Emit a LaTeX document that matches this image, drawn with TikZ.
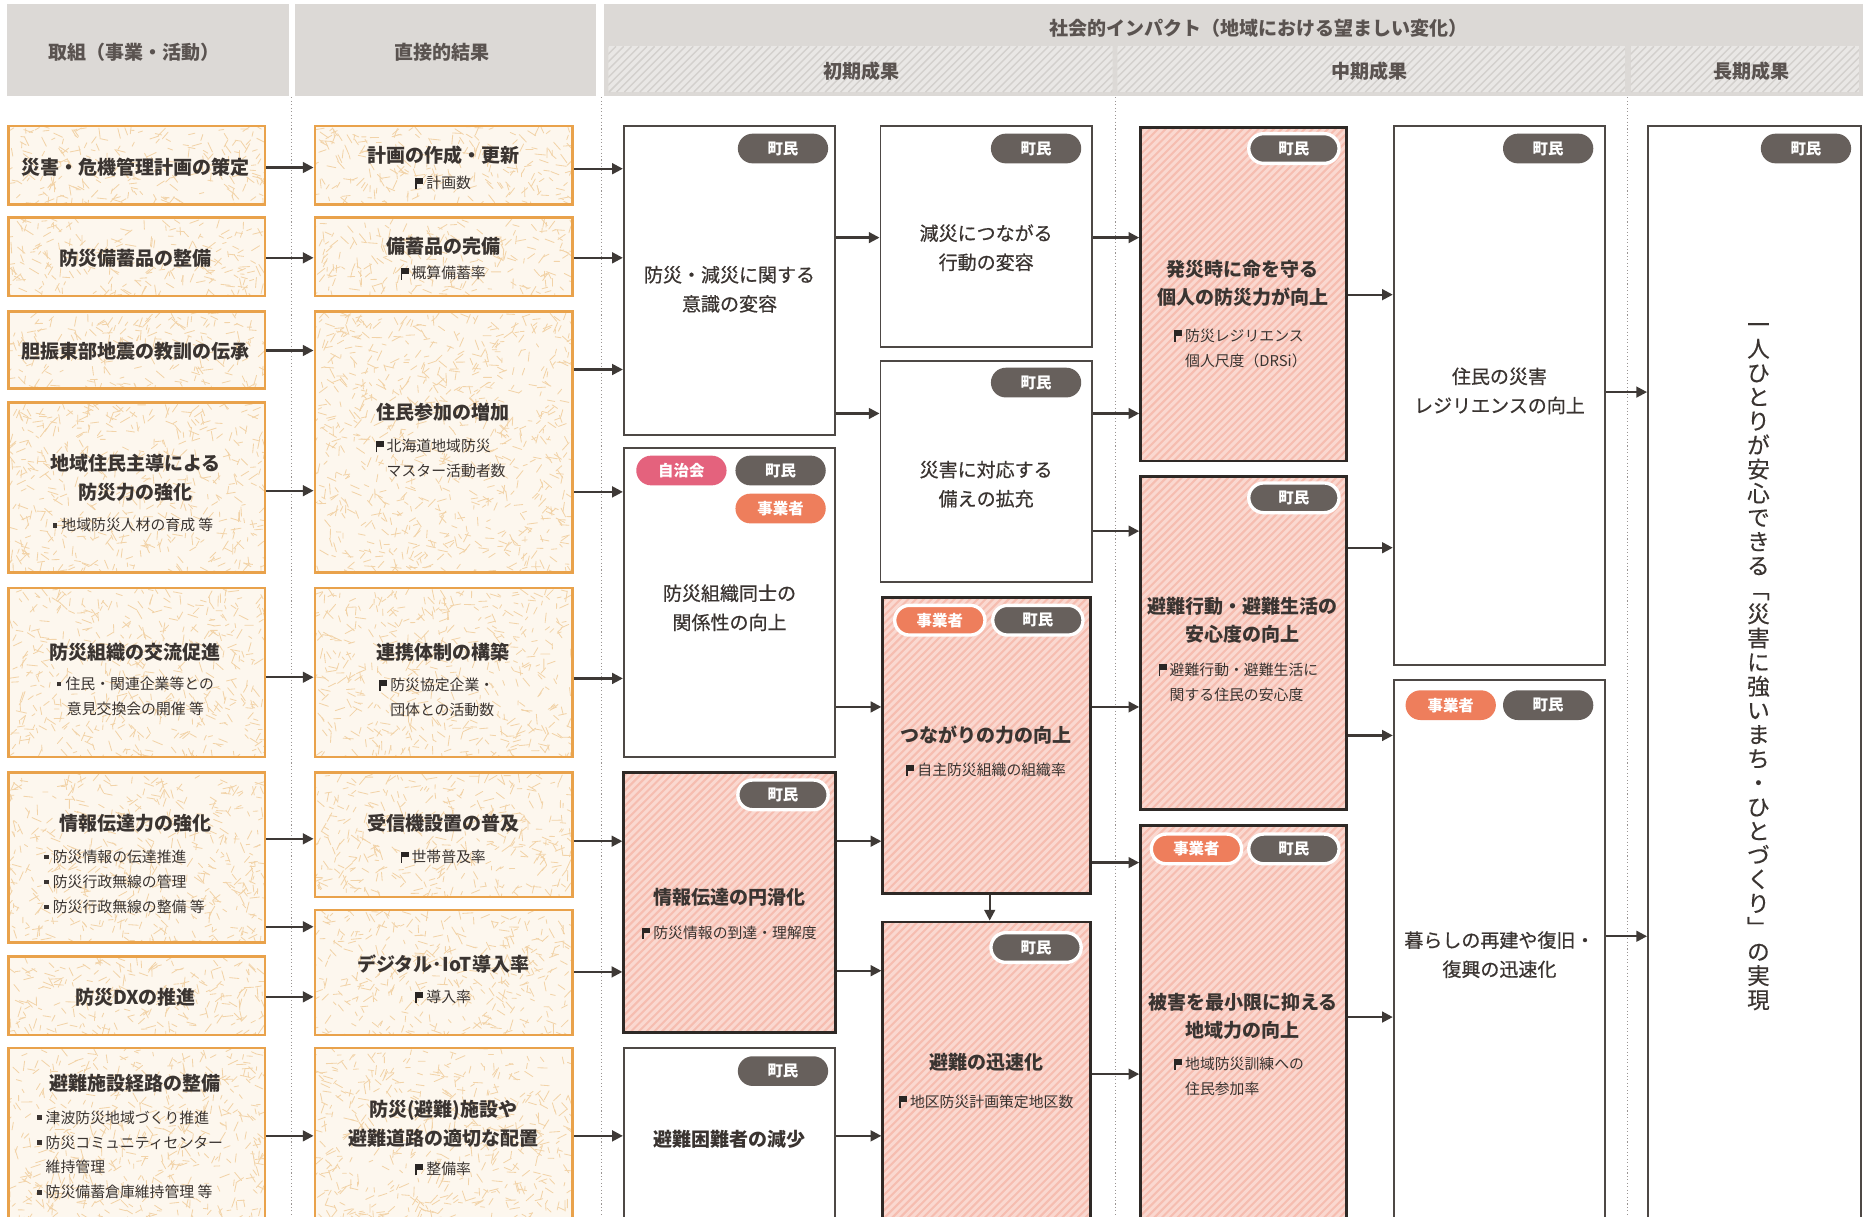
\documentclass[tikz,border=0pt]{standalone}
\usepackage{fontspec}
\setmainfont{Noto Sans CJK JP}
\newfontfamily\medf[FakeBold=0.6]{Noto Sans CJK JP}
\newfontfamily\vertf[FakeBold=0.3]{Noto Sans CJK JP}
\usetikzlibrary{arrows.meta,shapes.misc}

\definecolor{hdr}{HTML}{DCD9D6}
\definecolor{hdrtxt}{HTML}{5A5350}
\definecolor{hband}{HTML}{E9E7E5}
\definecolor{hstripe}{HTML}{D3D0CD}
\definecolor{orb}{HTML}{E9A24B}
\definecolor{cream}{HTML}{FDF7EE}
\definecolor{scr}{HTML}{F2D3A8}
\definecolor{pinkf}{HTML}{F6BDB0}
\definecolor{pinks}{HTML}{FAD8D0}
\definecolor{pbd}{HTML}{2E2926}
\definecolor{wbd}{HTML}{4D4845}
\definecolor{arrc}{HTML}{3E3936}
\definecolor{pilld}{HTML}{67605C}
\definecolor{pillp}{HTML}{E4627D}
\definecolor{pillo}{HTML}{EE7E5C}
\definecolor{txt}{HTML}{3A3431}
\definecolor{dotc}{HTML}{9A9593}
\definecolor{flagc}{HTML}{2A2624}

\newcommand\flag{{\color{flagc}\rule[-0.5pt]{1.3pt}{9.5pt}\raisebox{4.2pt}{\rule{5.5pt}{4.8pt}}}\hspace{2.5pt}}
\newcommand\bul{{\color{txt}\raisebox{2.6pt}{\rule{3.8pt}{3.8pt}}}\hspace{3.5pt}}

\tikzset{
  arr/.style={draw=arrc, line width=1.9pt, -{Triangle[length=9pt,width=9pt]}},
  obx/.style={draw=orb, line width=2.2pt, inner sep=0pt},
  pbx/.style={draw=pbd, line width=2.4pt, inner sep=0pt},
  wbx/.style={draw=wbd, line width=1.5pt, fill=white, inner sep=0pt},
  plainbx/.style={inner sep=0pt, outer sep=0pt},
  hdbx/.style={fill=hdr, inner sep=0pt, outer sep=0pt},
  pill/.style={rounded rectangle, fill=#1, text=white, minimum width=76pt, minimum height=25pt, inner sep=0pt, font=\fontsize{13}{13}\selectfont\bfseries},
  pillw/.style={pill=#1, draw=white, line width=2.8pt},
  hd/.style={font=\fontsize{16}{16}\selectfont\bfseries, text=hdrtxt, inner sep=0pt},
  tb/.style={font=\fontsize{16}{24}\selectfont\bfseries, text=txt, align=center, inner sep=0pt},
  tm/.style={font=\fontsize{16}{24.5}\selectfont\medf, text=txt, align=center, inner sep=0pt},
  ts/.style={font=\fontsize{12.5}{21}\selectfont, text=txt, align=center, inner sep=0pt},
  tsl/.style={font=\fontsize{12.5}{21}\selectfont, text=txt, align=left, inner sep=0pt, anchor=west},
  dotl/.style={draw=dotc, line width=0.9pt, dotted},
}

\newcommand\bx[6]{\node[#2, minimum width={#5-#3}, minimum height={#6-#4}] (#1) at ({(#3+#5)/2},{(#4+#6)/2}) {};}

\newcommand\scrib[4]{%
  \begin{scope}
    \clip (#1,#2) rectangle (#3,#4);
    \fill[cream] (#1,#2) rectangle (#3,#4);
    \pgfmathtruncatemacro\nn{((#3-#1)/10)*((#4-#2)/6)}%
    \foreach \i in {1,...,\nn}{%
      \pgfmathsetmacro\px{#1+rnd*(#3-#1)}%
      \pgfmathsetmacro\py{#2+rnd*(#4-#2)}%
      \pgfmathsetmacro\an{rnd*180}%
      \pgfmathsetmacro\ln{3+rnd*6}%
      \draw[scr, line width=0.7pt, line cap=round] (\px,\py) -- ++(\an:\ln);
    }
  \end{scope}}

\newcommand\stripes[8]{%
  \begin{scope}
    \clip (#1,#2) rectangle (#3,#4);
    \fill[#5] (#1,#2) rectangle (#3,#4);
    \pgfmathsetmacro\hh{#4-#2}%
    \pgfmathsetmacro\tot{#3-#1+#4-#2}%
    \foreach \k in {0,#8,...,\tot}{%
      \draw[#6, line width=#7pt] ({#1-\hh+\k},#4) -- ++(\hh,-\hh);
    }
  \end{scope}}

\newcommand\orbox[5]{\scrib{#2}{#3}{#4}{#5}\bx{#1}{obx}{#2}{#3}{#4}{#5}}
\newcommand\pinkbox[5]{\stripes{#2}{#3}{#4}{#5}{pinkf}{pinks}{2.6}{6.5}\bx{#1}{pbx}{#2}{#3}{#4}{#5}}
\newcommand\whbox[5]{\bx{#1}{wbx}{#2}{#3}{#4}{#5}}
\newcommand\harr[3]{\draw[arr] (#1.east |- 0,#3) -- (#2.west |- 0,#3);}

\begin{document}
\begin{tikzpicture}[x=1pt,y=-1pt]
\pgfmathsetseed{4242}
\useasboundingbox (0,0) rectangle (1568,1024);
\clip (0,0) rectangle (1568,1024);
\fill[white] (0,0) rectangle (1568,1024);

% ---------- header ----------
\node[hdbx, minimum width=237pt, minimum height=78pt] (H1) at (124.5,42) {};
\node[hdbx, minimum width=254pt, minimum height=78pt] (H2) at (375,42) {};
\node[hdbx, minimum width=1062pt, minimum height=78pt] (H3) at (1039,42) {};
\stripes{512}{39}{936.5}{77.5}{hband}{hstripe}{1.2}{6.5}
\bx{S1}{plainbx}{512}{39}{936.5}{77.5}
\stripes{940.5}{39}{1367.5}{77.5}{hband}{hstripe}{1.2}{6.5}
\bx{S2}{plainbx}{940.5}{39}{1367.5}{77.5}
\stripes{1372.5}{39}{1564.5}{77.5}{hband}{hstripe}{1.2}{6.5}
\bx{S3}{plainbx}{1372.5}{39}{1564.5}{77.5}
\node[hd] (H1t) at (112.5,44) {取組（事業・活動）};
\node[hd] (H2t) at (372,44) {直接的結果};
\node[hd] (H3t) at (1059,24) {社会的インパクト（地域における望ましい変化）};
\node[hd] (S1t) at (725,60) {初期成果};
\node[hd] (S2t) at (1153,60) {中期成果};
\node[hd] (S3t) at (1474,60) {長期成果};

% ---------- dotted separators ----------
\draw[dotl] (245,82) -- (245,1024);
\draw[dotl] (506,82) -- (506,1024);
\draw[dotl] (938.5,82) -- (938.5,1024);
\draw[dotl] (1370,82) -- (1370,1024);

% ---------- boxes ----------
\orbox{A1}{7}{106}{223}{172}
\orbox{A2}{7}{183}{223}{249}
\orbox{A3}{7}{262}{223}{327}
\orbox{A4}{7}{339}{223}{482}
\orbox{A5}{7}{495}{223}{637}
\orbox{A6}{7}{650}{223}{793}
\orbox{A7}{7}{805}{223}{871}
\orbox{A8}{7}{882}{223}{1040}
\orbox{B1}{265}{106}{482}{172}
\orbox{B2}{265}{183}{482}{249}
\orbox{B3}{265}{262}{482}{482}
\orbox{B4}{265}{495}{482}{637}
\orbox{B5}{265}{650}{482}{755}
\orbox{B6}{265}{766}{482}{871}
\orbox{B7}{265}{882}{482}{1040}
\whbox{C1}{525}{106}{703}{366}
\whbox{C2}{525}{377}{703}{637}
\pinkbox{C3}{525}{650}{703}{869}
\whbox{C4}{525}{882}{703}{1040}
\whbox{D1}{741}{106}{919}{292}
\whbox{D2}{741}{304}{919}{490}
\pinkbox{D3}{743}{503}{918}{752}
\pinkbox{D4}{743}{776}{918}{1040}
\pinkbox{E1}{960}{107}{1133}{388}
\pinkbox{E2}{960}{401}{1133}{681}
\pinkbox{E3}{960}{695}{1133}{1040}
\whbox{F1}{1173}{106}{1351}{560}
\whbox{F2}{1173}{572}{1351}{1040}
\whbox{G}{1387}{106}{1566}{1040}

% ---------- column 1 texts ----------
\node[tb] (A1t) at (114,141) {災害・危機管理計画の策定};
\node[tb] (A2t) at (114,217) {防災備蓄品の整備};
\node[tb] (A3t) at (114,296) {胆振東部地震の教訓の伝承};
\node[tb] (A4t) at (114,402) {地域住民主導による\\防災力の強化};
\node[ts] (A4s) at (112,442) {\bul 地域防災人材の育成 等};
\node[tb] (A5t) at (114,549) {防災組織の交流促進};
\node[ts] (A5s) at (114,586) {\bul 住民・関連企業等との\\意見交換会の開催 等};
\node[tb] (A6t) at (114,693) {情報伝達力の強化};
\node[tsl] (A6s) at (37,742) {\bul 防災情報の伝達推進\\\bul 防災行政無線の管理\\\bul 防災行政無線の整備 等};
\node[tb] (A7t) at (114,839) {防災DXの推進};
\node[tb] (A8t) at (114,912) {避難施設経路の整備};
\node[tsl] (A8s) at (31,972) {\bul 津波防災地域づくり推進\\\bul 防災コミュニティセンター\\\phantom{\bul}維持管理\\\bul 防災備蓄倉庫維持管理 等};

% ---------- column 2 texts ----------
\node[tb] (B1t) at (373,131) {計画の作成・更新};
\node[ts] (B1s) at (373,154) {\flag 計画数};
\node[tb] (B2t) at (373,207) {備蓄品の完備};
\node[ts] (B2s) at (373,230) {\flag 概算備蓄率};
\node[tb] (B3t) at (373,347) {住民参加の増加};
\node[tsl] (B3s) at (316,386) {\flag 北海道地域防災\\\phantom{\flag}マスター活動者数};
\node[tb] (B4t) at (373,549) {連携体制の構築};
\node[tsl] (B4s) at (319,587) {\flag 防災協定企業・\\\phantom{\flag}団体との活動数};
\node[tb] (B5t) at (373,693) {受信機設置の普及};
\node[ts] (B5s) at (373,721) {\flag 世帯普及率};
\node[tb] (B6t) at (373,811) {デジタル･IoT導入率};
\node[ts] (B6s) at (373,839) {\flag 導入率};
\node[tb] (B7t) at (373,946) {防災(避難)施設や\\避難道路の適切な配置};
\node[ts] (B7s) at (373,984) {\flag 整備率};

% ---------- outcome texts ----------
\node[tm] (C1t) at (614,243.5) {防災・減災に関する\\意識の変容};
\node[tm] (C2t) at (614,511.5) {防災組織同士の\\関係性の向上};
\node[tb] (C3t) at (614,755) {情報伝達の円滑化};
\node[ts] (C3s) at (614,785) {\flag 防災情報の到達・理解度};
\node[tb] (C4t) at (614,959) {避難困難者の減少};
\node[tm] (D1t) at (830,208.5) {減災につながる\\行動の変容};
\node[tm] (D2t) at (830,407.5) {災害に対応する\\備えの拡充};
\node[tb] (D3t) at (830,619) {つながりの力の向上};
\node[ts] (D3s) at (830,648) {\flag 自主防災組織の組織率};
\node[tb] (D4t) at (830,894) {避難の迅速化};
\node[ts] (D4s) at (830,927) {\flag 地区防災計画策定地区数};
\node[tb] (E1t) at (1046,238.5) {発災時に命を守る\\個人の防災力が向上};
\node[tsl] (E1s) at (988,293) {\flag 防災レジリエンス\\\phantom{\flag}個人尺度（DRSi）};
\node[tb] (E2t) at (1046,522) {避難行動・避難生活の\\安心度の向上};
\node[tsl] (E2s) at (975,574) {\flag 避難行動・避難生活に\\\phantom{\flag}関する住民の安心度};
\node[tb] (E3t) at (1046,855.5) {被害を最小限に抑える\\地域力の向上};
\node[tsl] (E3s) at (988,906) {\flag 地域防災訓練への\\\phantom{\flag}住民参加率};
\node[tm] (F1t) at (1262,329) {住民の災害\\レジリエンスの向上};
\node[tm] (F2t) at (1262,803.5) {暮らしの再建や復旧・\\復興の迅速化};
\node[font=\fontsize{19}{20.3}\selectfont\vertf, text=txt, align=center, inner sep=0pt] (Gt) at (1480,557.7)
 {\vphantom{国}一\\人\\ひ\\と\\り\\が\\安\\心\\で\\き\\る\\﹁\\災\\害\\に\\強\\い\\ま\\ち\\・\\ひ\\と\\づ\\く\\り\\﹂\\の\\実\\現};

% ---------- tags ----------
\node[pill=pilld] (C1p) at (659,125) {町民};
\node[pill=pilld] (D1p) at (872,125) {町民};
\node[pillw=pilld] (E1p) at (1089,125) {町民};
\node[pill=pilld] (F1p) at (1303,125) {町民};
\node[pill=pilld] (Gp) at (1520,125) {町民};
\node[pill=pillp] (C2a) at (573.5,396) {自治会};
\node[pill=pilld] (C2b) at (657,396) {町民};
\node[pill=pillo] (C2c) at (657,428) {事業者};
\node[pillw=pilld] (C3p) at (659,669) {町民};
\node[pill=pilld] (C4p) at (659,901.5) {町民};
\node[pill=pilld] (D2p) at (872,322) {町民};
\node[pillw=pillo] (D3a) at (791,522) {事業者};
\node[pillw=pilld] (D3b) at (873.5,522) {町民};
\node[pillw=pilld] (D4p) at (872,797.5) {町民};
\node[pillw=pilld] (E2p) at (1089,419) {町民};
\node[pillw=pillo] (E3a) at (1007,714.5) {事業者};
\node[pillw=pilld] (E3b) at (1089,714.5) {町民};
\node[pill=pillo] (F2a) at (1221,593.5) {事業者};
\node[pill=pilld] (F2b) at (1303,593.5) {町民};

% ---------- connectors ----------
\harr{A1}{B1}{141}
\harr{A2}{B2}{217}
\harr{A3}{B3}{295}
\harr{A4}{B3}{413}
\harr{A5}{B4}{570}
\harr{A6}{B5}{706}
\harr{A6}{B6}{780}
\harr{A7}{B6}{839}
\harr{A8}{B7}{956}
\harr{B1}{C1}{142}
\harr{B2}{C1}{217}
\harr{B3}{C1}{311}
\harr{B3}{C2}{414}
\harr{B4}{C2}{571}
\harr{B5}{C3}{708}
\harr{B6}{C3}{818}
\harr{B7}{C4}{956}
\harr{C1}{D1}{200}
\harr{C1}{D2}{348}
\harr{C2}{D3}{595}
\harr{C3}{D3}{708}
\harr{C3}{D4}{817}
\harr{C4}{D4}{956}
\draw[arr] (D3.south -| 833,0) -- (D4.north -| 833,0);
\harr{D1}{E1}{200}
\harr{D2}{E1}{348}
\harr{D2}{E2}{447}
\harr{D3}{E2}{595}
\harr{D3}{E3}{726}
\harr{D4}{E3}{904}
\harr{E1}{F1}{248}
\harr{E2}{F1}{461}
\harr{E2}{F2}{619}
\harr{E3}{F2}{856}
\harr{F1}{G}{330}
\harr{F2}{G}{788}
\end{tikzpicture}
\end{document}
